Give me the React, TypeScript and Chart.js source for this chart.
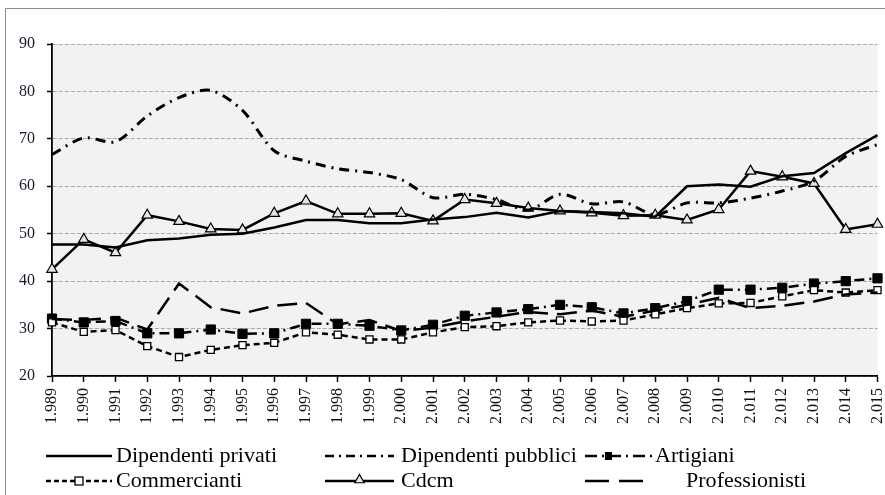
import React, { useEffect, useRef } from "react";
import { Chart, registerables } from "chart.js";

Chart.register(...registerables);

const years = [
  "1.989", "1.990", "1.991", "1.992", "1.993", "1.994", "1.995", "1.996", "1.997",
  "1.998", "1.999", "2.000", "2.001", "2.002", "2.003", "2.004", "2.005", "2.006",
  "2.007", "2.008", "2.009", "2.010", "2.011", "2.012", "2.013", "2.014", "2.015",
];

const dipendentiPrivati = [47.7, 47.7, 47.1, 48.6, 49.0, 49.8, 50.0, 51.3, 52.9, 52.9, 52.2, 52.2, 53.0, 53.5, 54.4, 53.4, 54.8, 54.6, 54.3, 53.6, 60.0, 60.4, 59.9, 62.1, 62.8, 67.0, 70.8];
const dipendentiPubblici = [66.7, 70.2, 69.4, 74.8, 78.7, 80.2, 76.0, 67.5, 65.3, 63.7, 62.9, 61.4, 57.6, 58.3, 57.2, 55.0, 58.3, 56.3, 56.7, 54.0, 56.5, 56.5, 57.5, 59.0, 61.1, 66.3, 68.8];
const artigiani = [32.1, 31.3, 31.6, 29.0, 29.0, 29.8, 28.9, 29.0, 31.0, 31.0, 30.6, 29.6, 30.8, 32.7, 33.4, 34.1, 35.0, 34.5, 33.2, 34.3, 35.8, 38.2, 38.2, 38.6, 39.5, 40.0, 40.6];
const commercianti = [31.3, 29.3, 29.7, 26.3, 24.0, 25.5, 26.5, 27.0, 29.2, 28.7, 27.7, 27.7, 29.2, 30.3, 30.5, 31.3, 31.7, 31.5, 31.7, 33.0, 34.3, 35.3, 35.4, 36.8, 38.1, 37.6, 38.1];
const cdcm = [42.5, 48.8, 46.0, 53.9, 52.6, 51.0, 50.8, 54.3, 56.9, 54.2, 54.2, 54.3, 52.7, 57.2, 56.4, 55.4, 54.8, 54.4, 53.8, 53.9, 52.9, 55.1, 63.2, 62.0, 60.6, 50.9, 52.0];
const professionisti = [32.0, 31.8, 32.3, 29.8, 39.5, 34.5, 33.2, 34.8, 35.4, 30.9, 31.8, 29.5, 30.2, 31.5, 32.5, 33.5, 33.0, 33.8, 32.5, 33.8, 35.0, 36.5, 34.3, 34.8, 35.7, 37.2, 37.6];

const yTicks = [20, 30, 40, 50, 60, 70, 80, 90];

const SERIF = "'Liberation Serif', 'Times New Roman', serif";

type LegendItem = {
  label: string;
  kind: "solid" | "dashdot" | "artigiani" | "commercianti" | "cdcm" | "long";
  x0: number;
  x1: number;
  tx: number;
  y: number;
};

const legendItems: LegendItem[] = [
  { label: "Dipendenti privati", kind: "solid", x0: 46, x1: 112, tx: 116, y: 456 },
  { label: "Dipendenti pubblici", kind: "dashdot", x0: 325, x1: 394, tx: 401, y: 456 },
  { label: "Artigiani", kind: "artigiani", x0: 585, x1: 652, tx: 655, y: 456 },
  { label: "Commercianti", kind: "commercianti", x0: 46, x1: 112, tx: 116, y: 481 },
  { label: "Cdcm", kind: "cdcm", x0: 325, x1: 394, tx: 401, y: 481 },
  { label: "Professionisti", kind: "long", x0: 585, x1: 650, tx: 686, y: 481 },
];

function drawTriangle(ctx: CanvasRenderingContext2D, x: number, y: number, r: number) {
  ctx.beginPath();
  ctx.moveTo(x, y - r);
  ctx.lineTo(x + r * 0.866, y + r * 0.5);
  ctx.lineTo(x - r * 0.866, y + r * 0.5);
  ctx.closePath();
  ctx.fillStyle = "#e6e6e6";
  ctx.fill();
  ctx.lineWidth = 1.2;
  ctx.strokeStyle = "#000";
  ctx.stroke();
}

const decorPlugin = {
  id: "decor",
  beforeDraw(chart: any) {
    const { ctx, chartArea, width, height } = chart;
    ctx.save();
    ctx.fillStyle = "#fff";
    ctx.fillRect(0, 0, width, height);
    ctx.fillStyle = "#f2f2f2";
    ctx.fillRect(chartArea.left, chartArea.top, chartArea.right - chartArea.left, chartArea.bottom - chartArea.top);
    ctx.strokeStyle = "#8c8c8c";
    ctx.lineWidth = 1;
    ctx.beginPath();
    ctx.moveTo(5.5, height);
    ctx.lineTo(5.5, 8.5);
    ctx.lineTo(width, 8.5);
    ctx.stroke();
    ctx.restore();
  },
  afterDraw(chart: any) {
    const { ctx } = chart;
    ctx.save();
    for (const it of legendItems) {
      const y = it.y;
      ctx.strokeStyle = "#000";
      ctx.lineWidth = 2.5;
      ctx.lineCap = "butt";
      ctx.setLineDash([]);
      if (it.kind === "solid") {
        ctx.beginPath(); ctx.moveTo(it.x0, y); ctx.lineTo(it.x1, y); ctx.stroke();
      } else if (it.kind === "dashdot") {
        ctx.setLineDash([9, 5, 2, 5]);
        ctx.beginPath(); ctx.moveTo(it.x0, y); ctx.lineTo(it.x1, y); ctx.stroke();
      } else if (it.kind === "artigiani") {
        ctx.setLineDash([12, 5, 2, 5]);
        ctx.beginPath(); ctx.moveTo(it.x0, y); ctx.lineTo(it.x1, y); ctx.stroke();
        ctx.setLineDash([]);
        ctx.fillStyle = "#000";
        ctx.fillRect(it.x0 + 20, y - 4, 7, 8);
      } else if (it.kind === "commercianti") {
        ctx.setLineDash([5, 3]);
        ctx.beginPath(); ctx.moveTo(it.x0, y); ctx.lineTo(it.x1, y); ctx.stroke();
        ctx.setLineDash([]);
        ctx.fillStyle = "#fff";
        ctx.fillRect(it.x0 + 29, y - 4, 8, 8);
        ctx.lineWidth = 1.3;
        ctx.strokeRect(it.x0 + 29, y - 4, 8, 8);
      } else if (it.kind === "cdcm") {
        ctx.beginPath(); ctx.moveTo(it.x0, y); ctx.lineTo(it.x1, y); ctx.stroke();
        drawTriangle(ctx, (it.x0 + it.x1) / 2, y - 1, 5.5);
      } else if (it.kind === "long") {
        ctx.setLineDash([24, 10]);
        ctx.beginPath(); ctx.moveTo(it.x0, y); ctx.lineTo(it.x1, y); ctx.stroke();
      }
      ctx.setLineDash([]);
      ctx.fillStyle = "#000";
      ctx.font = `21px ${SERIF}`;
      ctx.textBaseline = "middle";
      ctx.textAlign = "left";
      ctx.save();
      ctx.translate(it.tx, y);
      ctx.scale(1.05, 1);
      ctx.fillText(it.label, 0, 0);
      ctx.restore();
    }
    ctx.restore();
  },
};

export default function App() {
  const canvasRef = useRef<HTMLCanvasElement | null>(null);

  useEffect(() => {
    if (!canvasRef.current) return;
    const lw = 2.5;
    const chart = new Chart(canvasRef.current, {
      type: "line",
      data: {
        labels: years,
        datasets: [
          {
            label: "Dipendenti privati",
            data: dipendentiPrivati,
            borderColor: "#000",
            borderWidth: lw,
            pointRadius: 0,
            tension: 0,
          },
          {
            label: "Dipendenti pubblici",
            data: dipendentiPubblici,
            borderColor: "#000",
            borderWidth: 3,
            borderDash: [10, 6, 2, 6],
            pointRadius: 0,
            tension: 0.3,
          },
          {
            label: "Professionisti",
            data: professionisti,
            borderColor: "#000",
            borderWidth: lw,
            borderDash: [20, 9],
            pointRadius: 0,
            tension: 0,
          },
          {
            label: "Commercianti",
            data: commercianti,
            borderColor: "#000",
            borderWidth: lw,
            borderDash: [6, 4],
            pointStyle: "rect",
            pointRadius: 5,
            pointBackgroundColor: "#fff",
            pointBorderColor: "#000",
            pointBorderWidth: 1.3,
            tension: 0,
          },
          {
            label: "Artigiani",
            data: artigiani,
            borderColor: "#000",
            borderWidth: lw,
            borderDash: [10, 5, 2, 5],
            pointStyle: "rect",
            pointRadius: 6.5,
            pointBackgroundColor: "#000",
            pointBorderColor: "#000",
            pointBorderWidth: 1,
            tension: 0,
          },
          {
            label: "Cdcm",
            data: cdcm,
            borderColor: "#000",
            borderWidth: lw,
            pointStyle: "triangle",
            pointRadius: 6,
            pointBackgroundColor: "#e6e6e6",
            pointBorderColor: "#000",
            pointBorderWidth: 1.2,
            tension: 0,
          },
        ],
      },
      options: {
        animation: false,
        responsive: true,
        maintainAspectRatio: false,
        layout: { padding: { top: 44, right: 5, left: 0, bottom: 0 } },
        plugins: {
          legend: { display: false },
          tooltip: { enabled: false },
          title: { display: false },
        },
        scales: {
          x: {
            type: "category",
            offset: false,
            grid: {
              drawOnChartArea: false,
              drawTicks: true,
              tickLength: 6,
              tickColor: "#000",
              tickWidth: 1.5,
            },
            border: { display: true, color: "#000", width: 1.8 },
            ticks: {
              autoSkip: false,
              maxRotation: 90,
              minRotation: 90,
              padding: 6,
              color: "#111",
              font: { family: SERIF, size: 16 },
            },
            afterFit: (scale: any) => {
              scale.height = 119;
              scale.paddingLeft = 0;
              scale.paddingRight = 0;
            },
          },
          y: {
            min: 20,
            max: 90,
            afterBuildTicks: (scale: any) => {
              scale.ticks = yTicks.map((v) => ({ value: v }));
            },
            grid: {
              color: "#a8a8a8",
              lineWidth: 1,
              drawTicks: true,
              tickLength: 5,
              tickColor: "#000",
              tickWidth: 1.5,
              tickBorderDash: [],
            },
            border: { display: true, color: "#000", width: 1.8, dash: [4, 2] },
            ticks: {
              padding: 12,
              color: "#1a1a2e",
              font: { family: SERIF, size: 16 },
            },
            afterFit: (scale: any) => {
              scale.width = 52;
              scale.paddingTop = 0;
              scale.paddingBottom = 0;
            },
          },
        },
      },
      plugins: [decorPlugin],
    });
    return () => chart.destroy();
  }, []);

  return (
    <div style={{ position: "absolute", left: 0, top: 0, width: 885, height: 495 }}>
      <canvas ref={canvasRef} />
    </div>
  );
}
